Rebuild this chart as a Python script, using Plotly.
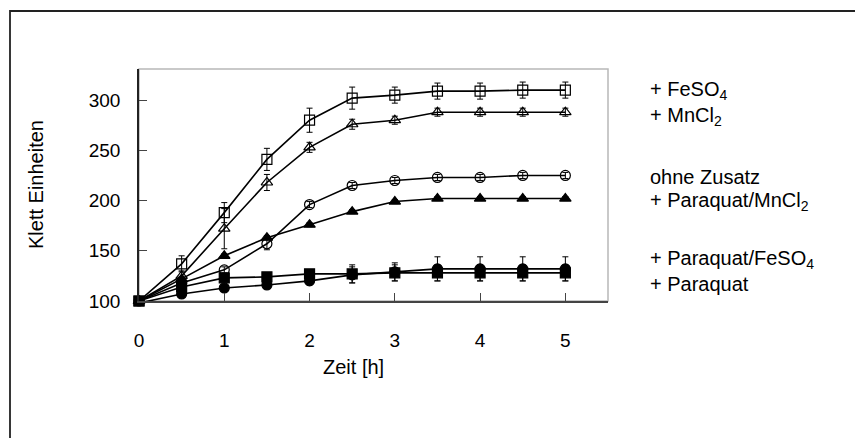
import plotly.graph_objects as go

zeit = [0, 0.5, 1, 1.5, 2, 2.5, 3, 3.5, 4, 4.5, 5]

feso4 = [100, 137, 188, 241, 280, 302, 305, 309, 309, 310, 310]
feso4_err = [2, 8, 10, 11, 12, 11, 8, 8, 8, 8, 8]

mncl2 = [100, 125, 172, 218, 253, 276, 280, 288, 288, 288, 288]
mncl2_err = [2, 5, 20, 8, 5, 5, 4, 4, 4, 4, 4]

ohne = [100, 118, 131, 157, 196, 215, 220, 223, 223, 225, 225]
ohne_err = [2, 3, 3, 6, 3, 3, 3, 3, 3, 3, 3]

pq_mncl2 = [100, 122, 145, 163, 176, 189, 199, 202, 202, 202, 202]
pq_mncl2_err = [1, 2, 2, 2, 2, 2, 2, 2, 2, 2, 2]

pq_feso4 = [98, 107, 113, 116, 120, 126, 129, 132, 132, 132, 132]
pq_feso4_err = [1, 3, 3, 3, 4, 8, 9, 12, 12, 12, 12]

pq = [100, 114, 123, 124, 127, 127, 128, 128, 128, 128, 128]
pq_err = [1, 3, 3, 3, 3, 9, 8, 8, 8, 8, 8]

series = [
    (feso4, feso4_err, "square-open"),
    (mncl2, mncl2_err, "triangle-up-open"),
    (ohne, ohne_err, "circle-open"),
    (pq_mncl2, pq_mncl2_err, "triangle-up"),
    (pq_feso4, pq_feso4_err, "circle"),
    (pq, pq_err, "square"),
]

labels = ["+ FeSO<sub>4</sub>", "+ MnCl<sub>2</sub>", "ohne Zusatz",
          "+ Paraquat/MnCl<sub>2</sub>", "+ Paraquat/FeSO<sub>4</sub>", "+ Paraquat"]
label_y_px = [90, 116, 177, 201, 259, 284]

# page offset (body margin) compensation
OFF = 8
W, H = 863, 438
L, T = 139 - OFF, 69 - OFF
R = W - (608 - OFF)
B = H - (301 - OFF)
pw, ph = W - L - R, H - T - B

def px_x(xp):
    return (xp - OFF - L) / pw

def px_y(yp):
    return (H - B - (yp - OFF)) / ph

fig = go.Figure()
for vals, err, sym in series:
    fig.add_trace(go.Scatter(
        x=zeit, y=vals, mode="lines+markers",
        line=dict(color="black", width=1.6),
        marker=dict(symbol=sym, size=10, color="black",
                    line=dict(color="black", width=1.2)),
        error_y=dict(type="data", array=err, visible=True,
                     color="black", thickness=1, width=3),
        showlegend=False, cliponaxis=False,
    ))

font = dict(family="Liberation Sans, Arial, sans-serif", size=20, color="black")
tfont = dict(family="Liberation Sans, Arial, sans-serif", size=19, color="black")

for lab, ypx in zip(labels, label_y_px):
    fig.add_annotation(
        x=px_x(648), y=px_y(ypx), xref="paper", yref="paper",
        text=lab, showarrow=False, xanchor="left", yanchor="middle",
        font=font,
    )

# axis titles
fig.add_annotation(x=px_x(36), y=px_y(185), xref="paper", yref="paper",
                   text="Klett Einheiten", textangle=-90, showarrow=False,
                   xanchor="center", yanchor="middle", font=font)
fig.add_annotation(x=px_x(353), y=px_y(367), xref="paper", yref="paper",
                   text="Zeit [h]", showarrow=False,
                   xanchor="center", yanchor="middle", font=font)

# plot area border (top/right gray)
fig.add_shape(type="rect", xref="paper", yref="paper", x0=0, x1=1, y0=0, y1=1,
              line=dict(color="#b8b8b8", width=1.5), layer="below")
# outer frame
fig.add_shape(type="rect", xref="paper", yref="paper",
              x0=px_x(10), x1=px_x(W + 40),
              y0=px_y(H + 40), y1=px_y(11),
              line=dict(color="#222222", width=1.8), layer="below")

fig.update_layout(
    width=W, height=H,
    margin=dict(l=L, r=R, t=T, b=B, autoexpand=False),
    paper_bgcolor="white", plot_bgcolor="white",
    font=font,
    xaxis=dict(range=[0, 5.5], tickvals=[0, 1, 2, 3, 4, 5], ticks="inside",
               ticklen=8, tickcolor="#444", showgrid=False, zeroline=False,
               showline=True, linecolor="#444", linewidth=1.5,
               automargin=False, ticklabelstandoff=21, tickfont=tfont),
    yaxis=dict(range=[100, 331], tickvals=[100, 150, 200, 250, 300], ticks="inside",
               ticklen=8, tickcolor="#444", showgrid=False, zeroline=False,
               showline=True, linecolor="#222", linewidth=1.5,
               automargin=False, ticklabelstandoff=13, tickfont=tfont),
)

fig.write_html("out.html")
